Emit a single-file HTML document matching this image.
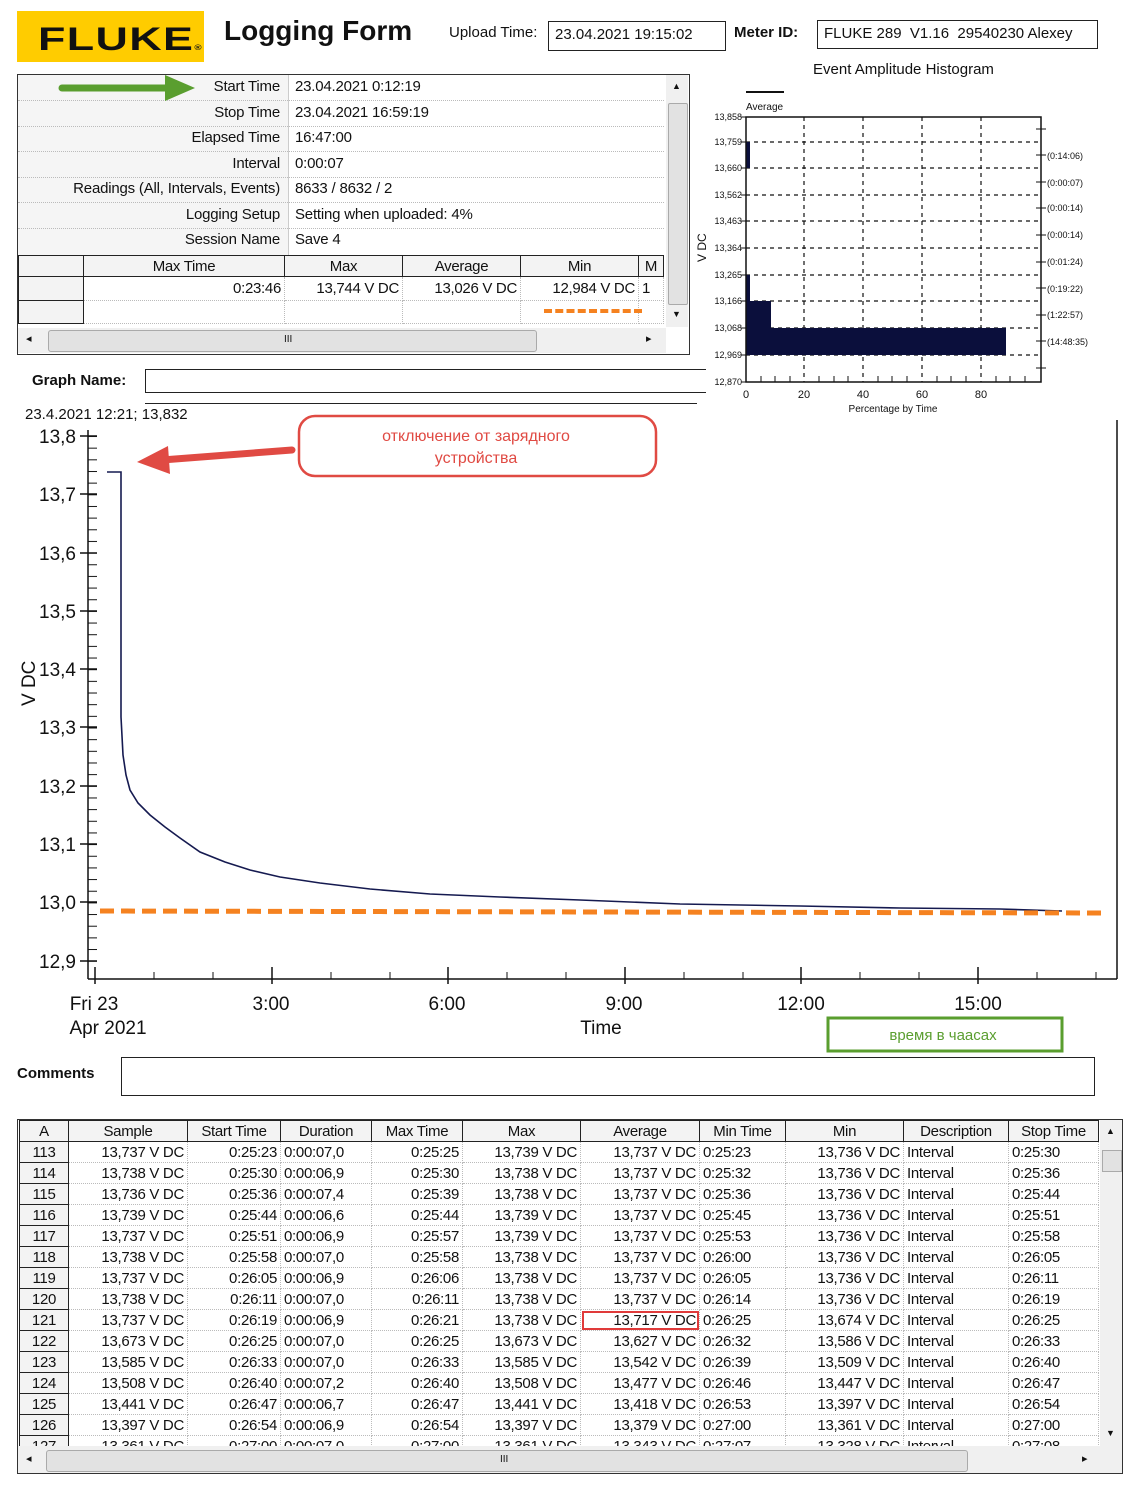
<!DOCTYPE html>
<html><head><meta charset="utf-8"><style>
body{margin:0;width:1131px;height:1485px;background:#fff;position:relative;overflow:hidden;font-family:"Liberation Sans","DejaVu Sans",sans-serif;color:#111}
.a{position:absolute}
.box{position:absolute;border:1px solid #222;background:#fff}
.t1{position:absolute;left:17px;top:74px;width:671px;height:279px;border:1px solid #333;background:#fff}
.lab{position:absolute;right:409px;font-size:15px;text-align:right;letter-spacing:-0.2px}
.val{position:absolute;left:277px;font-size:15px;letter-spacing:-0.2px}
.hl{position:absolute;left:0;width:646px;border-top:1px dotted #bbb}
table.bt{border-collapse:collapse;font-size:15px;letter-spacing:-0.3px}
table.bt td{height:20px;border:1px dotted #bbb;padding:0 3px;white-space:nowrap;overflow:hidden}
table.bt th{font-weight:normal;height:20px;border:1px solid #222;background:#f3f3f3;padding:0}
.n{text-align:right}
td.rh{border:1px solid #222!important;background:#f3f3f3;text-align:center}
</style></head><body>
<div class="a" style="left:17px;top:11px;width:187px;height:51px;background:#ffcc00"></div>
<div class="a" style="left:38px;top:21px;font-size:32px;font-weight:bold;letter-spacing:1px;color:#111;transform:scaleX(1.4);transform-origin:left">FLUKE<span style="font-size:7px">®</span></div>
<div class="a" style="left:224px;top:15px;font-size:28px;font-weight:bold">Logging Form</div>
<div class="a" style="left:449px;top:24px;font-size:15px">Upload Time:</div>
<div class="box" style="left:548px;top:21px;width:176px;height:28px"><span style="position:absolute;left:6px;top:4px;font-size:15px">23.04.2021 19:15:02</span></div>
<div class="a" style="left:734px;top:24px;font-size:15px;font-weight:bold">Meter ID:</div>
<div class="box" style="left:817px;top:20px;width:279px;height:27px"><span style="position:absolute;left:6px;top:4px;font-size:15px">FLUKE 289&nbsp; V1.16&nbsp; 29540230 Alexey</span></div>
<div class="a" style="left:813px;top:61px;font-size:15px">Event Amplitude Histogram</div>

<div class="t1">
<div class="a" style="left:0;top:0;width:270px;height:180px;background:#f5f5f5"></div>
<div class="a" style="left:270px;top:0;width:1px;height:180px;background:#ccc"></div>
<div class="lab" style="top:3px">Start Time</div><div class="val" style="top:3px">23.04.2021 0:12:19</div>
<div class="lab" style="top:29px">Stop Time</div><div class="val" style="top:29px">23.04.2021 16:59:19</div>
<div class="lab" style="top:54px">Elapsed Time</div><div class="val" style="top:54px">16:47:00</div>
<div class="lab" style="top:80px">Interval</div><div class="val" style="top:80px">0:00:07</div>
<div class="lab" style="top:105px">Readings (All, Intervals, Events)</div><div class="val" style="top:105px">8633 / 8632 / 2</div>
<div class="lab" style="top:131px">Logging Setup</div><div class="val" style="top:131px">Setting when uploaded: 4%</div>
<div class="lab" style="top:156px">Session Name</div><div class="val" style="top:156px">Save 4</div>
<div class="hl" style="top:25px"></div><div class="hl" style="top:51px"></div><div class="hl" style="top:76px"></div><div class="hl" style="top:102px"></div><div class="hl" style="top:127px"></div><div class="hl" style="top:153px"></div>
<table class="bt" style="position:absolute;left:0;top:180px;width:646px;table-layout:fixed">
<tr><th style="width:64px"></th><th style="width:200px">Max Time</th><th style="width:117px">Max</th><th style="width:117px">Average</th><th style="width:117px">Min</th><th>M</th></tr>
<tr><td class="rh" style="height:23px"></td><td class="n">0:23:46</td><td class="n">13,744 V DC</td><td class="n">13,026 V DC</td><td class="n">12,984 V DC</td><td>1</td></tr>
<tr><td class="rh" style="height:22px"></td><td></td><td></td><td></td><td></td><td></td></tr>
</table>
<div class="a" style="left:526px;top:234px;width:98px;border-top:4px dashed #f58220"></div>
<div class="a" style="left:648px;top:0;width:22px;height:252px;background:#f0f0f0"></div>
<div class="a" style="left:650px;top:28px;width:18px;height:200px;background:#e2e2e2;border:1px solid #aaa;border-radius:2px"></div>
<div class="a" style="left:654px;top:6px;font-size:9px">▲</div>
<div class="a" style="left:654px;top:234px;font-size:9px">▼</div>
<div class="a" style="left:0;top:253px;width:648px;height:25px;background:#f0f0f0"></div>
<div class="a" style="left:30px;top:255px;width:487px;height:20px;background:#e2e2e2;border:1px solid #aaa;border-radius:3px"></div>
<div class="a" style="left:8px;top:257px;font-size:11px">◂</div><div class="a" style="left:628px;top:257px;font-size:11px">▸</div>
<div class="a" style="left:266px;top:259px;font-size:10px">III</div>
</div>
<svg class="a" style="left:0;top:0" width="1131" height="1485">
<path d="M62 88 L170 88" stroke="#5a9e2f" stroke-width="7" stroke-linecap="round"/>
<path d="M165 75 L195 88 L165 101 Z" fill="#5a9e2f"/>
</svg>

<div class="a" style="left:32px;top:372px;font-size:15px;font-weight:bold">Graph Name:</div>
<div class="box" style="left:145px;top:369px;width:560px;height:22px;border-right:none"></div>
<div class="a" style="left:145px;top:403px;width:552px;border-top:1px solid #222"></div>
<div class="a" style="left:25px;top:406px;font-size:15px">23.4.2021 12:21; 13,832</div>

<svg class="a" style="left:0;top:0" width="1131" height="1485" font-family="Liberation Sans, sans-serif">
<defs><pattern id="mt" patternUnits="userSpaceOnUse" x="88" y="436" width="10" height="11.66"><line x1="0" y1="0.5" x2="9" y2="0.5" stroke="#111"/></pattern></defs>
<rect x="88" y="436" width="10" height="532" fill="url(#mt)"/>
<line x1="88" y1="430" x2="88" y2="979" stroke="#111" stroke-width="1.5"/>
<line x1="88" y1="979" x2="1117" y2="979" stroke="#111" stroke-width="1.5"/>
<line x1="1117" y1="420" x2="1117" y2="979" stroke="#111" stroke-width="1.5"/>
<g stroke="#111" stroke-width="1.5">
<line x1="80" y1="436" x2="97" y2="436"/><line x1="80" y1="494" x2="97" y2="494"/><line x1="80" y1="553" x2="97" y2="553"/><line x1="80" y1="611" x2="97" y2="611"/><line x1="80" y1="669" x2="97" y2="669"/><line x1="80" y1="727" x2="97" y2="727"/><line x1="80" y1="786" x2="97" y2="786"/><line x1="80" y1="844" x2="97" y2="844"/><line x1="80" y1="902" x2="97" y2="902"/><line x1="80" y1="961" x2="97" y2="961"/>
<line x1="95" y1="967" x2="95" y2="984"/><line x1="272" y1="967" x2="272" y2="984"/><line x1="448" y1="967" x2="448" y2="984"/><line x1="625" y1="967" x2="625" y2="984"/><line x1="801" y1="967" x2="801" y2="984"/><line x1="978" y1="967" x2="978" y2="984"/>
</g>
<g stroke="#111" stroke-width="1">
<line x1="154" y1="972" x2="154" y2="979"/><line x1="213" y1="972" x2="213" y2="979"/><line x1="331" y1="972" x2="331" y2="979"/><line x1="390" y1="972" x2="390" y2="979"/><line x1="507" y1="972" x2="507" y2="979"/><line x1="566" y1="972" x2="566" y2="979"/><line x1="684" y1="972" x2="684" y2="979"/><line x1="743" y1="972" x2="743" y2="979"/><line x1="860" y1="972" x2="860" y2="979"/><line x1="919" y1="972" x2="919" y2="979"/><line x1="1037" y1="972" x2="1037" y2="979"/><line x1="1096" y1="972" x2="1096" y2="979"/>
</g>
<g font-size="19" fill="#111" text-anchor="end">
<text x="76" y="443">13,8</text><text x="76" y="501">13,7</text><text x="76" y="560">13,6</text><text x="76" y="618">13,5</text><text x="76" y="676">13,4</text><text x="76" y="734">13,3</text><text x="76" y="793">13,2</text><text x="76" y="851">13,1</text><text x="76" y="909">13,0</text><text x="76" y="968">12,9</text>
</g>
<text transform="translate(35,706) rotate(-90)" font-size="19" fill="#111">V DC</text>
<g font-size="19" fill="#111" text-anchor="middle">
<text x="94" y="1010">Fri 23</text><text x="108" y="1034">Apr 2021</text><text x="271" y="1010">3:00</text><text x="447" y="1010">6:00</text><text x="624" y="1010">9:00</text><text x="601" y="1034">Time</text><text x="801" y="1010">12:00</text><text x="978" y="1010">15:00</text>
</g>
<path d="M107 472 L121 472 L121 717 L123 755 L126 775 L130 790 L138 803 L150 815 L165 827 L180 838 L200 852 L225 862 L250 870 L280 877 L320 883 L370 889 L430 894 L500 897 L580 900 L680 904 L800 906 L900 908 L1000 909 L1062 911" fill="none" stroke="#151a50" stroke-width="1.6"/>
<line x1="100" y1="911" x2="1107" y2="913" stroke="#f58220" stroke-width="5" stroke-dasharray="14 7"/>
<rect x="299" y="416" width="357" height="60" rx="16" fill="#fff" stroke="#e04a43" stroke-width="2.5"/>
<text x="476" y="441" font-size="16" fill="#e04a43" text-anchor="middle">отключение от зарядного</text>
<text x="476" y="463" font-size="16" fill="#e04a43" text-anchor="middle">устройства</text>
<path d="M292 450 L162 460" stroke="#e04a43" stroke-width="7" stroke-linecap="round"/>
<path d="M168 446 L137 462 L170 474 Z" fill="#e04a43"/>
<rect x="828" y="1018" width="234" height="33" fill="#fff" stroke="#5a9e2f" stroke-width="3"/>
<text x="943" y="1040" font-size="15" fill="#5a9e2f" text-anchor="middle">время в чаасах</text>

<line x1="746" y1="92" x2="784" y2="92" stroke="#111" stroke-width="2"/>
<text x="746" y="110" font-size="10" fill="#111">Average</text>
<g stroke="#111" stroke-width="1.2" stroke-dasharray="4 4">
<line x1="746" y1="142" x2="1041" y2="142"/><line x1="746" y1="168" x2="1041" y2="168"/><line x1="746" y1="195" x2="1041" y2="195"/><line x1="746" y1="221" x2="1041" y2="221"/><line x1="746" y1="248" x2="1041" y2="248"/><line x1="746" y1="275" x2="1041" y2="275"/><line x1="746" y1="301" x2="1041" y2="301"/><line x1="746" y1="328" x2="1041" y2="328"/><line x1="746" y1="355" x2="1041" y2="355"/>
<line x1="804" y1="117" x2="804" y2="382"/><line x1="863" y1="117" x2="863" y2="382"/><line x1="922" y1="117" x2="922" y2="382"/><line x1="981" y1="117" x2="981" y2="382"/>
</g>
<rect x="746" y="142" width="4" height="26" fill="#0b0f3c"/>
<rect x="746" y="275" width="4" height="80" fill="#0b0f3c"/>
<rect x="746" y="301" width="25" height="54" fill="#0b0f3c"/>
<rect x="746" y="328" width="260" height="27" fill="#0b0f3c"/>
<rect x="746" y="117" width="295" height="265" fill="none" stroke="#111" stroke-width="1.5"/>
<g stroke="#111" stroke-width="1">
<line x1="741" y1="117" x2="746" y2="117"/><line x1="741" y1="142" x2="746" y2="142"/><line x1="741" y1="168" x2="746" y2="168"/><line x1="741" y1="195" x2="746" y2="195"/><line x1="741" y1="221" x2="746" y2="221"/><line x1="741" y1="248" x2="746" y2="248"/><line x1="741" y1="275" x2="746" y2="275"/><line x1="741" y1="301" x2="746" y2="301"/><line x1="741" y1="328" x2="746" y2="328"/><line x1="741" y1="355" x2="746" y2="355"/><line x1="741" y1="382" x2="746" y2="382"/>
<line x1="1036" y1="129" x2="1046" y2="129"/><line x1="1036" y1="155" x2="1046" y2="155"/><line x1="1036" y1="182" x2="1046" y2="182"/><line x1="1036" y1="208" x2="1046" y2="208"/><line x1="1036" y1="235" x2="1046" y2="235"/><line x1="1036" y1="262" x2="1046" y2="262"/><line x1="1036" y1="288" x2="1046" y2="288"/><line x1="1036" y1="315" x2="1046" y2="315"/><line x1="1036" y1="341" x2="1046" y2="341"/><line x1="1036" y1="368" x2="1046" y2="368"/>
<path d="M761 382v-6M775 382v-6M790 382v-6M819 382v-6M834 382v-6M848 382v-6M878 382v-6M892 382v-6M907 382v-6M937 382v-6M951 382v-6M966 382v-6M996 382v-6M1010 382v-6M1025 382v-6"/>
</g>
<g font-size="9" fill="#111" text-anchor="end">
<text x="742" y="120">13,858</text><text x="742" y="145">13,759</text><text x="742" y="171">13,660</text><text x="742" y="198">13,562</text><text x="742" y="224">13,463</text><text x="742" y="251">13,364</text><text x="742" y="278">13,265</text><text x="742" y="304">13,166</text><text x="742" y="331">13,068</text><text x="742" y="358">12,969</text><text x="742" y="385">12,870</text>
</g>
<g font-size="9" fill="#111">
<text x="1047" y="159">(0:14:06)</text><text x="1047" y="186">(0:00:07)</text><text x="1047" y="211">(0:00:14)</text><text x="1047" y="238">(0:00:14)</text><text x="1047" y="265">(0:01:24)</text><text x="1047" y="292">(0:19:22)</text><text x="1047" y="318">(1:22:57)</text><text x="1047" y="345">(14:48:35)</text>
</g>
<g font-size="11" fill="#111" text-anchor="middle">
<text x="746" y="398">0</text><text x="804" y="398">20</text><text x="863" y="398">40</text><text x="922" y="398">60</text><text x="981" y="398">80</text>
<text x="893" y="412" font-size="10">Percentage by Time</text>
</g>
<text transform="translate(706,262) rotate(-90)" font-size="12" fill="#111">V DC</text>
</svg>

<div class="a" style="left:17px;top:1065px;font-size:15px;font-weight:bold">Comments</div>
<div class="box" style="left:121px;top:1057px;width:972px;height:37px"></div>

<div class="a" style="left:17px;top:1119px;width:1104px;height:353px;border:1px solid #333;background:#fff;overflow:hidden">
<table class="bt" style="position:absolute;left:1px;top:0;table-layout:fixed;width:1080px">
<tr><th style="width:48px">A</th><th style="width:118px">Sample</th><th style="width:92px">Start Time</th><th style="width:90px">Duration</th><th style="width:90px">Max Time</th><th style="width:117px">Max</th><th style="width:118px">Average</th><th style="width:85px">Min Time</th><th style="width:117px">Min</th><th style="width:104px">Description</th><th>Stop Time</th></tr>
<tr><td class="rh">113</td><td class="n">13,737 V DC</td><td class="n">0:25:23</td><td>0:00:07,0</td><td class="n">0:25:25</td><td class="n">13,739 V DC</td><td class="n">13,737 V DC</td><td>0:25:23</td><td class="n">13,736 V DC</td><td>Interval</td><td>0:25:30</td></tr>
<tr><td class="rh">114</td><td class="n">13,738 V DC</td><td class="n">0:25:30</td><td>0:00:06,9</td><td class="n">0:25:30</td><td class="n">13,738 V DC</td><td class="n">13,737 V DC</td><td>0:25:32</td><td class="n">13,736 V DC</td><td>Interval</td><td>0:25:36</td></tr>
<tr><td class="rh">115</td><td class="n">13,736 V DC</td><td class="n">0:25:36</td><td>0:00:07,4</td><td class="n">0:25:39</td><td class="n">13,738 V DC</td><td class="n">13,737 V DC</td><td>0:25:36</td><td class="n">13,736 V DC</td><td>Interval</td><td>0:25:44</td></tr>
<tr><td class="rh">116</td><td class="n">13,739 V DC</td><td class="n">0:25:44</td><td>0:00:06,6</td><td class="n">0:25:44</td><td class="n">13,739 V DC</td><td class="n">13,737 V DC</td><td>0:25:45</td><td class="n">13,736 V DC</td><td>Interval</td><td>0:25:51</td></tr>
<tr><td class="rh">117</td><td class="n">13,737 V DC</td><td class="n">0:25:51</td><td>0:00:06,9</td><td class="n">0:25:57</td><td class="n">13,739 V DC</td><td class="n">13,737 V DC</td><td>0:25:53</td><td class="n">13,736 V DC</td><td>Interval</td><td>0:25:58</td></tr>
<tr><td class="rh">118</td><td class="n">13,738 V DC</td><td class="n">0:25:58</td><td>0:00:07,0</td><td class="n">0:25:58</td><td class="n">13,738 V DC</td><td class="n">13,737 V DC</td><td>0:26:00</td><td class="n">13,736 V DC</td><td>Interval</td><td>0:26:05</td></tr>
<tr><td class="rh">119</td><td class="n">13,737 V DC</td><td class="n">0:26:05</td><td>0:00:06,9</td><td class="n">0:26:06</td><td class="n">13,738 V DC</td><td class="n">13,737 V DC</td><td>0:26:05</td><td class="n">13,736 V DC</td><td>Interval</td><td>0:26:11</td></tr>
<tr><td class="rh">120</td><td class="n">13,738 V DC</td><td class="n">0:26:11</td><td>0:00:07,0</td><td class="n">0:26:11</td><td class="n">13,738 V DC</td><td class="n">13,737 V DC</td><td>0:26:14</td><td class="n">13,736 V DC</td><td>Interval</td><td>0:26:19</td></tr>
<tr><td class="rh">121</td><td class="n">13,737 V DC</td><td class="n">0:26:19</td><td>0:00:06,9</td><td class="n">0:26:21</td><td class="n">13,738 V DC</td><td class="n" style="outline:2px solid #e03a3a;outline-offset:-3px">13,717 V DC</td><td>0:26:25</td><td class="n">13,674 V DC</td><td>Interval</td><td>0:26:25</td></tr>
<tr><td class="rh">122</td><td class="n">13,673 V DC</td><td class="n">0:26:25</td><td>0:00:07,0</td><td class="n">0:26:25</td><td class="n">13,673 V DC</td><td class="n">13,627 V DC</td><td>0:26:32</td><td class="n">13,586 V DC</td><td>Interval</td><td>0:26:33</td></tr>
<tr><td class="rh">123</td><td class="n">13,585 V DC</td><td class="n">0:26:33</td><td>0:00:07,0</td><td class="n">0:26:33</td><td class="n">13,585 V DC</td><td class="n">13,542 V DC</td><td>0:26:39</td><td class="n">13,509 V DC</td><td>Interval</td><td>0:26:40</td></tr>
<tr><td class="rh">124</td><td class="n">13,508 V DC</td><td class="n">0:26:40</td><td>0:00:07,2</td><td class="n">0:26:40</td><td class="n">13,508 V DC</td><td class="n">13,477 V DC</td><td>0:26:46</td><td class="n">13,447 V DC</td><td>Interval</td><td>0:26:47</td></tr>
<tr><td class="rh">125</td><td class="n">13,441 V DC</td><td class="n">0:26:47</td><td>0:00:06,7</td><td class="n">0:26:47</td><td class="n">13,441 V DC</td><td class="n">13,418 V DC</td><td>0:26:53</td><td class="n">13,397 V DC</td><td>Interval</td><td>0:26:54</td></tr>
<tr><td class="rh">126</td><td class="n">13,397 V DC</td><td class="n">0:26:54</td><td>0:00:06,9</td><td class="n">0:26:54</td><td class="n">13,397 V DC</td><td class="n">13,379 V DC</td><td>0:27:00</td><td class="n">13,361 V DC</td><td>Interval</td><td>0:27:00</td></tr>
<tr><td class="rh">127</td><td class="n">13,361 V DC</td><td class="n">0:27:00</td><td>0:00:07,0</td><td class="n">0:27:00</td><td class="n">13,361 V DC</td><td class="n">13,343 V DC</td><td>0:27:07</td><td class="n">13,328 V DC</td><td>Interval</td><td>0:27:08</td></tr>
</table>
<div class="a" style="left:1082px;top:0;width:22px;height:330px;background:#f0f0f0"></div>
<div class="a" style="left:1084px;top:30px;width:18px;height:20px;background:#e2e2e2;border:1px solid #aaa"></div>
<div class="a" style="left:1088px;top:6px;font-size:9px">▲</div><div class="a" style="left:1088px;top:308px;font-size:9px">▼</div>
<div class="a" style="left:0;top:326px;width:1104px;height:27px;background:#f0f0f0"></div>
<div class="a" style="left:28px;top:330px;width:920px;height:20px;background:#e2e2e2;border:1px solid #aaa;border-radius:3px"></div>
<div class="a" style="left:8px;top:332px;font-size:11px">◂</div><div class="a" style="left:1064px;top:332px;font-size:11px">▸</div>
<div class="a" style="left:482px;top:334px;font-size:10px">III</div>
</div>
</body></html>
